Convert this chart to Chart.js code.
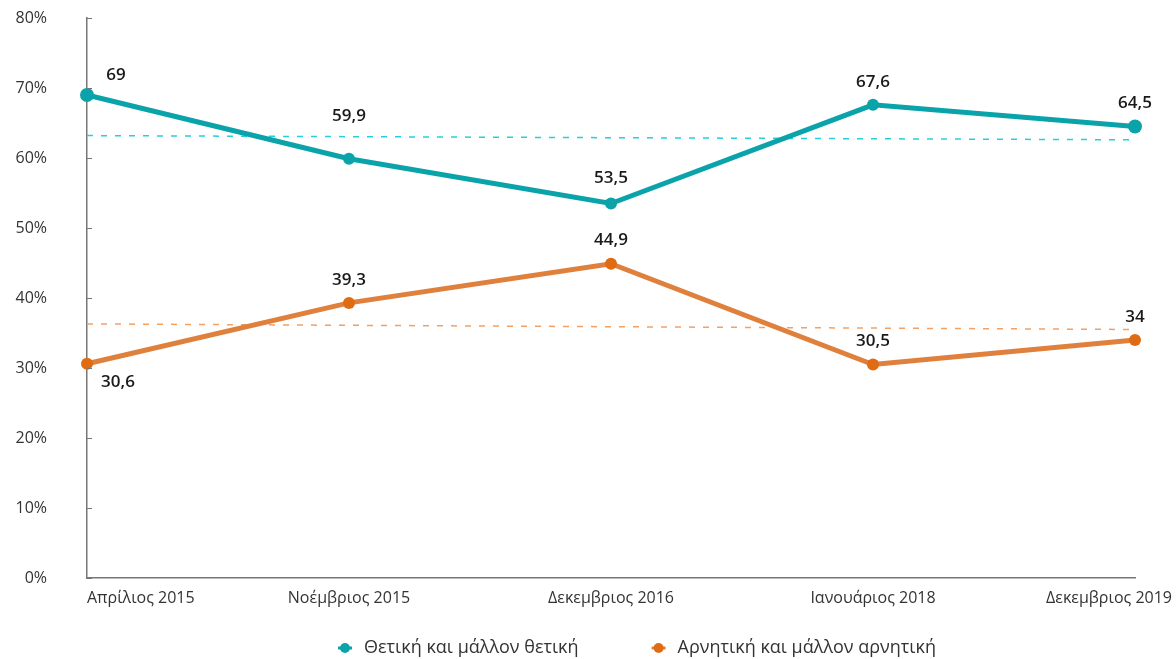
<!DOCTYPE html>
<html>
<head>
<meta charset="utf-8">
<script src="https://cdn.jsdelivr.net/npm/chart.js@4/dist/chart.umd.min.js"></script>
<style>
  html, body { margin: 0; padding: 0; background: #fff; }
  #wrap { width: 1176px; height: 659px; position: relative; }
</style>
</head>
<body>
<div id="wrap"><canvas id="chart"></canvas></div>
<script>
// categories and values
const periods = ["Απρίλιος 2015", "Νοέμβριος 2015", "Δεκεμβριος 2016", "Ιανουάριος 2018", "Δεκεμβριος 2019"];
const positive = [69, 59.9, 53.5, 67.6, 64.5];
const negative = [30.6, 39.3, 44.9, 30.5, 34];
// dashed trend lines, endpoints only
const positiveTrend = [63.2, null, null, null, 62.6];
const negativeTrend = [36.3, null, null, null, 35.5];
const yTicks = [0, 10, 20, 30, 40, 50, 60, 70, 80];
const seriesNames = ["Θετική και μάλλον θετική", "Αρνητική και μάλλον αρνητική"];

const FONT = "'Open Sans', 'Noto Sans', sans-serif";

// value labels: [dx, dy] from the point
const labelOffsets = [
  [[29, -20], [0, -43], [0, -25], [0, -23], [0, -23]],
  [[31, 18], [0, -23], [0, -24], [0, -23], [0, -23]]
];

const fmt = v => String(v).replace(".", ",");

const extrasPlugin = {
  id: "extras",
  afterDatasetsDraw(chart) {
    const ctx = chart.ctx;
    const area = chart.chartArea;
    const xs = chart.scales.x;
    const ys = chart.scales.y;

    // small inner tick marks on the y axis
    ctx.save();
    ctx.strokeStyle = "#777";
    ctx.lineWidth = 1;
    yTicks.forEach(t => {
      const y = Math.round(ys.getPixelForValue(t)) + 0.5;
      ctx.beginPath();
      ctx.moveTo(area.left, y);
      ctx.lineTo(area.left + 5, y);
      ctx.stroke();
    });
    ctx.restore();

    // value labels
    ctx.save();
    ctx.font = "600 17px " + FONT;
    ctx.fillStyle = "#1a1a1a";
    ctx.textAlign = "center";
    ctx.textBaseline = "middle";
    [0, 1].forEach(di => {
      const meta = chart.getDatasetMeta(di);
      const data = chart.data.datasets[di].data;
      meta.data.forEach((pt, i) => {
        const off = labelOffsets[di][i];
        ctx.fillText(fmt(data[i]), pt.x + off[0], pt.y + off[1]);
      });
    });
    ctx.restore();

    // category labels, kept inside the canvas
    ctx.save();
    ctx.font = "16px " + FONT;
    ctx.fillStyle = "#333";
    ctx.textAlign = "left";
    ctx.textBaseline = "middle";
    periods.forEach((p, i) => {
      const x = xs.getPixelForTick(i);
      const w = ctx.measureText(p).width;
      let left = x - w / 2;
      left = Math.max(left, area.left);
      left = Math.min(left, chart.width - 4 - w);
      ctx.fillText(p, left, area.bottom + 20);
    });
    ctx.restore();

    // legend
    ctx.save();
    ctx.font = "18px " + FONT;
    ctx.textBaseline = "middle";
    const ly = area.bottom + 70;
    let lx = area.left + 258;
    [0, 1].forEach(di => {
      const ds = chart.data.datasets[di];
      ctx.strokeStyle = ds.borderColor;
      ctx.fillStyle = ds.pointBackgroundColor;
      ctx.lineWidth = 3;
      ctx.beginPath();
      ctx.moveTo(lx - 7, ly);
      ctx.lineTo(lx + 7, ly);
      ctx.stroke();
      ctx.beginPath();
      ctx.arc(lx, ly, 5, 0, Math.PI * 2);
      ctx.fill();
      ctx.fillStyle = "#333";
      ctx.fillText(seriesNames[di], lx + 19, ly);
      lx += 19 + ctx.measureText(seriesNames[di]).width + 80;
    });
    ctx.restore();
  }
};

new Chart(document.getElementById("chart"), {
  type: "line",
  data: {
    labels: periods,
    datasets: [
      {
        label: seriesNames[0],
        data: positive,
        borderColor: "#0ba3aa",
        backgroundColor: "#0ba3aa",
        pointBackgroundColor: "#0ba3aa",
        pointBorderWidth: 0,
        pointRadius: [7, 6, 6, 6, 7],
        borderWidth: 5,
        order: 1
      },
      {
        label: seriesNames[1],
        data: negative,
        borderColor: "#df803d",
        backgroundColor: "#df6b12",
        pointBackgroundColor: "#df6b12",
        pointBorderWidth: 0,
        pointRadius: 6,
        borderWidth: 5,
        order: 2
      },
      {
        label: "trend1",
        data: positiveTrend,
        borderColor: "#25d0dd",
        borderWidth: 1.5,
        borderDash: [6, 8],
        pointRadius: 0,
        spanGaps: true,
        order: 3
      },
      {
        label: "trend2",
        data: negativeTrend,
        borderColor: "#f4a063",
        borderWidth: 1.5,
        borderDash: [6, 8],
        pointRadius: 0,
        spanGaps: true,
        order: 4
      }
    ]
  },
  options: {
    responsive: true,
    maintainAspectRatio: false,
    animation: false,
    layout: { padding: { top: 18, right: 41, bottom: 0, left: 0 } },
    scales: {
      x: {
        grid: { display: false },
        border: { color: "#777", width: 1.5 },
        ticks: { display: false },
        afterFit: s => { s.height = 81; s.paddingLeft = 0; s.paddingRight = 0; }
      },
      y: {
        min: 0,
        max: 80,
        grid: { display: false },
        border: { color: "#777", width: 1.5 },
        ticks: {
          stepSize: 10,
          padding: 32,
          color: "#333",
          font: { family: FONT, size: 16 },
          callback: v => v + "%"
        },
        afterFit: s => { s.width = 87; s.paddingTop = 0; s.paddingBottom = 0; }
      }
    },
    plugins: {
      legend: { display: false },
      tooltip: { enabled: false }
    }
  },
  plugins: [extrasPlugin]
});
</script>
</body>
</html>
